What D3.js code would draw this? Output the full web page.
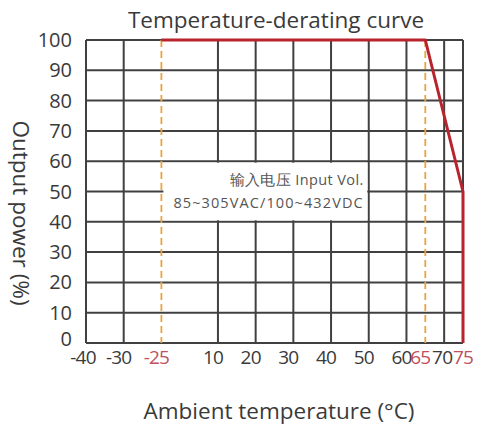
<!DOCTYPE html>
<html>
<head>
<meta charset="utf-8">
<script src="https://cdn.jsdelivr.net/npm/d3@7"></script>
<style>
  body { margin: 0; background: #fff; }
  text { font-family: "Open Sans", "DejaVu Sans", sans-serif; fill: #3a3a3a; }
</style>
</head>
<body>
<div id="chart"></div>
<script>
// data
const xTicks = [-40, -30, -25, 10, 20, 30, 40, 50, 60, 65, 70, 75];
const redTicks = [-25, 65, 75];
const limitTemps = [-25, 65];
const yTicks = [0, 10, 20, 30, 40, 50, 60, 70, 80, 90, 100];
const curveTemp = [-25, 65, 75, 75];
const curvePower = [100, 100, 50, 0];
const noteLines = ['输入电压  Input Vol.', '85~305VAC/100~432VDC'];
const noteArea = {t0: -25, t1: 50, p0: 40, p1: 60};

const margin = {top: 40, right: 18, bottom: 84, left: 86};
const dim = {w: 481 - margin.left - margin.right, h: 427 - margin.top - margin.bottom};

const svg = d3.select('#chart').append('svg')
  .attr('width', 481)
  .attr('height', 427);
const g = svg.append('g')
  .attr('transform', `translate(${margin.left}, ${margin.top})`);

// the x axis is not evenly spaced: -40..-25 and -25..10 are squeezed
const x = d3.scaleLinear()
  .domain([-40, -30, -25, 10, 75])
  .range([0, 1, 2, 3.5, 10].map(u => u * dim.w / 10));
const y = d3.scaleLinear().domain([0, 100]).range([dim.h, 0]);

const gridColor = '#404040';

// horizontal grid
g.selectAll('line.hgrid')
  .data(yTicks)
  .enter().append('line')
  .attr('class', 'hgrid')
  .attr('x1', 0).attr('x2', dim.w)
  .attr('y1', d => y(d)).attr('y2', d => y(d))
  .attr('stroke', gridColor).attr('stroke-width', 2);

// vertical grid (limit temps are drawn dashed below)
g.selectAll('line.vgrid')
  .data(xTicks.filter(d => !limitTemps.includes(d)))
  .enter().append('line')
  .attr('class', 'vgrid')
  .attr('x1', d => x(d)).attr('x2', d => x(d))
  .attr('y1', 0).attr('y2', dim.h)
  .attr('stroke', gridColor).attr('stroke-width', 2);

// white box behind the note
g.append('rect')
  .attr('x', x(noteArea.t0) + 2)
  .attr('y', y(noteArea.p1) + 1.5)
  .attr('width', x(noteArea.t1) - x(noteArea.t0) - 3.5)
  .attr('height', y(noteArea.p0) - y(noteArea.p1) - 3)
  .attr('fill', '#fff');

g.selectAll('line.limit')
  .data(limitTemps)
  .enter().append('line')
  .attr('class', 'limit')
  .attr('x1', d => x(d)).attr('x2', d => x(d))
  .attr('y1', 0).attr('y2', dim.h)
  .attr('stroke', '#e9a43e').attr('stroke-width', 1.8)
  .attr('stroke-dasharray', '7,4');

// derating curve
const line = d3.line()
  .x(d => x(d[0]))
  .y(d => y(d[1]));
g.append('path')
  .datum(d3.zip(curveTemp, curvePower))
  .attr('d', line)
  .attr('fill', 'none')
  .attr('stroke', '#b8232e')
  .attr('stroke-width', 3)
  .attr('stroke-linejoin', 'round');

// note text, one line each side of the 50% grid line
g.selectAll('text.note')
  .data(noteLines)
  .enter().append('text')
  .attr('class', 'note')
  .attr('x', x(noteArea.t1) - 5)
  .attr('y', (d, i) => y(50) + (i === 0 ? -7 : 16))
  .attr('text-anchor', 'end')
  .style('font-size', '14.5px')
  .style('letter-spacing', (d, i) => i === 0 ? '0.4px' : '1.1px')
  .style('fill', '#555')
  .text(d => d);

// tick labels (the 0 sits a little higher, clear of the x labels)
g.selectAll('text.ytick')
  .data(yTicks)
  .enter().append('text')
  .attr('class', 'ytick')
  .attr('x', -14)
  .attr('y', d => y(d) + (d === 0 ? 3 : 7))
  .attr('text-anchor', 'end')
  .style('font-size', '20px')
  .text(d => d);

// labels at the crowded right end are nudged like in the original
const xShift = {'-40': -3, 65: -5, 70: -2, 75: 0};
g.selectAll('text.xtick')
  .data(xTicks)
  .enter().append('text')
  .attr('class', 'xtick')
  .attr('x', d => x(d) + (d in xShift ? xShift[d] : -5))
  .attr('y', dim.h + 21)
  .attr('text-anchor', 'middle')
  .style('font-size', '19px')
  .style('letter-spacing', '-0.8px')
  .style('fill', d => redTicks.includes(d) ? '#c2505c' : '#3a3a3a')
  .text(d => d);

// titles
svg.append('text')
  .attr('x', 276).attr('y', 28)
  .attr('text-anchor', 'middle')
  .style('font-size', '22.5px')
  .text('Temperature-derating curve');

svg.append('text')
  .attr('x', 279).attr('y', 419)
  .attr('text-anchor', 'middle')
  .style('font-size', '22.5px')
  .text('Ambient temperature (°C)');

svg.append('text')
  .attr('transform', 'translate(13, 213) rotate(90)')
  .attr('text-anchor', 'middle')
  .style('font-size', '22.5px')
  .text('Output power (%)');
</script>
</body>
</html>
